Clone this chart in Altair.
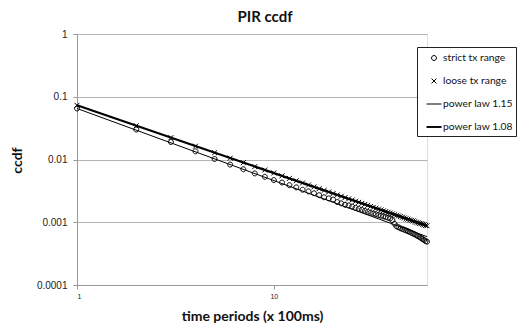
import altair as alt
import pandas as pd

periods = list(range(1, 61))

strict_ccdf = [
    0.065, 0.030, 0.019, 0.0135, 0.0102, 0.0083, 0.0070, 0.0060, 0.0053, 0.0047,
    0.0043, 0.0039, 0.0036, 0.0033, 0.0031, 0.0029, 0.0027, 0.0025, 0.0024, 0.0023,
    0.0021, 0.0020, 0.0019, 0.00185, 0.00178, 0.0017, 0.00164, 0.00158, 0.00152, 0.00147,
    0.00142, 0.00138, 0.00134, 0.0013, 0.00127, 0.00124, 0.00121, 0.00118, 0.00115, 0.00108,
    0.00095, 0.00086, 0.00083, 0.0008, 0.00078, 0.00076, 0.00074, 0.00072, 0.0007, 0.00068,
    0.00066, 0.00064, 0.00062, 0.0006, 0.00058, 0.00056, 0.00054, 0.00052, 0.0005, 0.00049,
]

loose_ccdf = [
    0.073, 0.0345, 0.0223, 0.0163, 0.0128, 0.0105, 0.0089, 0.0077, 0.0068, 0.0061,
    0.00548, 0.00499, 0.00458, 0.00423, 0.00392, 0.00366, 0.00343, 0.00322, 0.00304, 0.00287,
    0.00272, 0.00259, 0.00247, 0.00236, 0.00226, 0.00216, 0.00208, 0.00200, 0.00193, 0.00186,
    0.00179, 0.00173, 0.00167, 0.00162, 0.00157, 0.00152, 0.00148, 0.00144, 0.00140, 0.00136,
    0.00132, 0.00129, 0.00126, 0.00123, 0.00120, 0.00117, 0.00114, 0.00112, 0.00109, 0.00107,
    0.00105, 0.00102, 0.00100, 0.00098, 0.00096, 0.00095, 0.00093, 0.00091, 0.00089, 0.00088,
]

law_115_x = [1, 60]
law_115_y = [0.065, 0.00059]
law_108_x = [1, 60]
law_108_y = [0.073, 0.00088]

series_names = ["strict tx range", "loose tx range", "power law 1.15", "power law 1.08"]
y_ticks = [0.0001, 0.001, 0.01, 0.1, 1]
x_ticks = [1, 10]

pts = pd.DataFrame({
    "t": periods + periods,
    "ccdf": strict_ccdf + loose_ccdf,
    "series": [series_names[0]] * len(periods) + [series_names[1]] * len(periods),
})
lines = pd.DataFrame({
    "t": law_115_x + law_108_x,
    "ccdf": law_115_y + law_108_y,
    "series": [series_names[2]] * 2 + [series_names[3]] * 2,
})

circle_path = "M-0.33,0A0.33,0.33 0 1,1 0.33,0A0.33,0.33 0 1,1 -0.33,0Z"
cross_path = "M-0.33,-0.33L0.33,0.33M-0.33,0.33L0.33,-0.33"
line_path = "M-1,0L1,0"
thick_line_path = "M-1,-0.06L1,-0.06M-1,0.06L1,0.06"

FONT = "Liberation Sans"
TFONT = "Lato"

x_enc = alt.X("t:Q", scale=alt.Scale(type="log", domain=[1, 60], nice=False),
              axis=alt.Axis(values=x_ticks, format="~g", grid=False, labelFontSize=7,
                            labelFont=FONT, tickSize=4, tickColor="#999999",
                            domainColor="#999999", labelColor="#222222", labelPadding=3,
                            title="time periods (x 100ms)", titleFont=TFONT,
                            titleFontSize=14, titleFontWeight="bold", titleColor="#111111",
                            titleX=175, titleY=35, titleBaseline="alphabetic"))
y_enc = alt.Y("ccdf:Q", scale=alt.Scale(type="log", domain=[0.0001, 1], nice=False),
              axis=alt.Axis(values=y_ticks, format="~g", grid=True, gridColor="#b4b4b4",
                            labelFontSize=10, labelFont=FONT, tickSize=4,
                            tickColor="#999999", domainColor="#999999",
                            labelColor="#222222", labelPadding=6,
                            title="ccdf", titleFont=TFONT, titleFontSize=14,
                            titleFontWeight="bold", titleColor="#111111",
                            titleAngle=-90, titleX=-60, titleY=126,
                            titleAlign="center", titleBaseline="middle"))

line_layer = alt.Chart(lines).mark_line(color="black").encode(
    x=x_enc, y=y_enc, detail="series:N",
    strokeWidth=alt.StrokeWidth("series:N", scale=alt.Scale(domain=series_names[2:], range=[1, 2.2]), legend=None),
)

point_layer = alt.Chart(pts).mark_point(filled=False, color="black",
                                        strokeWidth=1, size=225, opacity=1).encode(
    x=x_enc, y=y_enc,
    shape=alt.Shape("series:N",
                    scale=alt.Scale(domain=series_names,
                                    range=[circle_path, cross_path, line_path, thick_line_path]),
                    legend=alt.Legend(
                        title=None, orient="none", legendX=340, legendY=13,
                        fillColor="white", strokeColor="#222222", padding=3,
                        symbolSize=225, symbolOffset=6, rowPadding=9,
                        symbolStrokeWidth=1,
                        labelFont=TFONT, labelFontSize=10.3, labelColor="#111111",
                        labelOffset=1,
                    )),
)

chart = alt.layer(line_layer, point_layer).properties(
    width=350, height=251,
    title=alt.TitleParams("PIR ccdf", font=TFONT, fontSize=15, fontWeight="bold",
                          color="#111111", anchor="middle", dx=13, offset=4),
    autosize=alt.AutoSizeParams(type="none"),
    padding={"left": 69, "top": 26, "right": 94, "bottom": 38},
).configure_view(stroke=None).configure(background="white")

chart.save("out.html", embed_options={"renderer": "svg", "actions": False})
